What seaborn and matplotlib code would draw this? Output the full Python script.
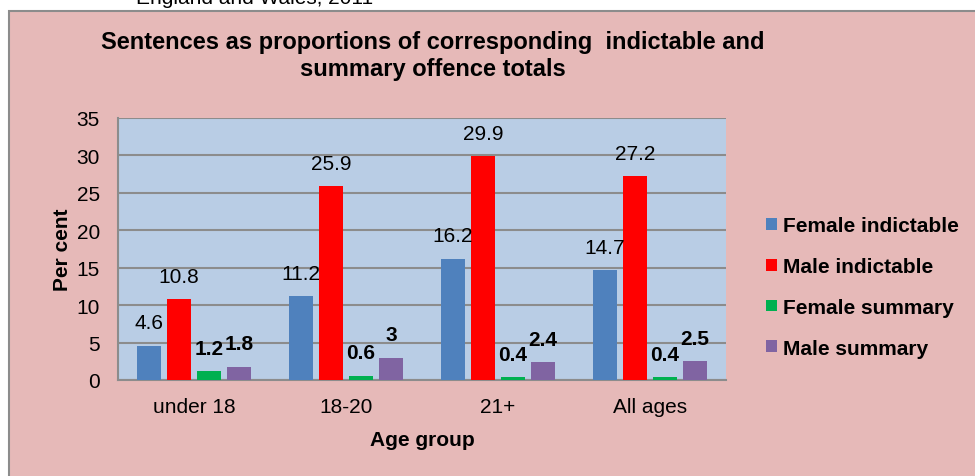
import matplotlib
matplotlib.use("Agg")
import matplotlib.pyplot as plt
import seaborn as sns
import pandas as pd
from matplotlib.patches import Rectangle

# -------------------- Data --------------------
age_groups = ["under 18", "18-20", "21+", "All ages"]
series_names = ["Female indictable", "Male indictable", "Female summary", "Male summary"]
female_indictable = [4.6, 11.2, 16.2, 14.7]
male_indictable = [10.8, 25.9, 29.9, 27.2]
female_summary = [1.2, 0.6, 0.4, 0.4]
male_summary = [1.8, 3.0, 2.4, 2.5]
label_texts = [
    ["4.6", "11.2", "16.2", "14.7"],
    ["10.8", "25.9", "29.9", "27.2"],
    ["1.2", "0.6", "0.4", "0.4"],
    ["1.8", "3", "2.4", "2.5"],
]
colors = ["#4F81BD", "#FF0000", "#00B050", "#8064A2"]

values = [female_indictable, male_indictable, female_summary, male_summary]
rows = []
for name, vals in zip(series_names, values):
    for grp, v in zip(age_groups, vals):
        rows.append({"Age group": grp, "Series": name, "Value": v})
df = pd.DataFrame(rows)

# -------------------- Plot --------------------
sns.set_style("white")
plt.rcParams["font.family"] = ["Liberation Sans", "DejaVu Sans"]
plt.rcParams.update({"text.color": "black", "axes.labelcolor": "black",
                     "xtick.labelcolor": "black", "ytick.labelcolor": "black"})

W, H = 975, 477
fig = plt.figure(figsize=(W / 100, H / 100), dpi=100)
fig.patch.set_facecolor("white")

# chart area (pink box with grey border, cut at right/bottom)
fig.patches.append(Rectangle((9 / W, -0.1), 1.2, 1 - 12 / H + 0.1, transform=fig.transFigure,
                             facecolor="#E6B9B8", edgecolor="#8C8C8C", linewidth=1.5, zorder=-5))
fig.text(255 / W, 1 - 4 / H, "England and Wales, 2011", ha="center", va="baseline",
         fontsize=15, color="black")

ax = fig.add_axes([118 / W, 1 - 381 / H, (726 - 118) / W, (381 - 119) / H])
ax.set_facecolor("#B9CDE5")

sns.barplot(data=df, x="Age group", y="Value", hue="Series", hue_order=series_names,
            palette=colors, width=0.79, gap=0.2, saturation=1, ax=ax, legend=True,
            edgecolor="none", zorder=3)

ax.set_ylim(0, 35)
ax.set_xlim(-0.5, 3.5)
ax.set_yticks(range(0, 36, 5))
ax.yaxis.grid(True, color="#8C8C8C", linewidth=1.5, zorder=0)
ax.set_axisbelow(True)

for side in ["top", "right"]:
    ax.spines[side].set_visible(False)
for side in ["left", "bottom"]:
    ax.spines[side].set_color("#8C8C8C")
    ax.spines[side].set_linewidth(1.5)

ax.set_xticks([0, 1, 2, 3])
ax.set_xticklabels(age_groups)
ax.tick_params(axis="x", length=0, pad=12, labelsize=15)
ax.set_xticks([-0.5, 0.5, 1.5, 2.5, 3.5], minor=True)
ax.tick_params(axis="x", which="minor", direction="out", length=6, color="#8C8C8C", width=1.5)
ax.tick_params(axis="y", direction="out", length=5, color="#8C8C8C", width=1.5, labelsize=15, pad=8)

ax.set_xlabel("Age group", fontsize=15, fontweight="bold", labelpad=10)
ax.set_ylabel("Per cent", fontsize=15, fontweight="bold", labelpad=3)

# data labels
for i, container in enumerate(ax.containers):
    weight = "bold" if i >= 2 else "normal"
    for bar, txt in zip(container, label_texts[i]):
        ax.annotate(txt, (bar.get_x() + bar.get_width() / 2, bar.get_height()),
                    xytext=(0, 16.5), textcoords="offset points", ha="center", va="center",
                    fontsize=15, fontweight=weight, zorder=5)

# legend
handles, labels = ax.get_legend_handles_labels()
fig.legend(handles, labels, loc="center left", bbox_to_anchor=(756 / W, 1 - 288 / H), frameon=False,
           prop={"weight": "bold", "size": 15}, handlelength=0.5, handleheight=0.5,
           handletextpad=0.3, labelspacing=1.05, borderpad=0)
ax.get_legend().remove() if ax.get_legend() else None

fig.text(433 / W, 1 - 56 / H,
         "Sentences as proportions of corresponding  indictable and\nsummary offence totals",
         ha="center", va="center", fontsize=17, fontweight="bold", linespacing=1.25)

fig.savefig("out.png", dpi=100, facecolor=fig.get_facecolor())
plt.close(fig)
